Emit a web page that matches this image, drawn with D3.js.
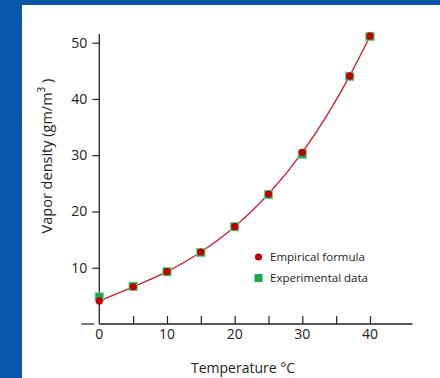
<!DOCTYPE html>
<html><head><meta charset="utf-8">
<script src="https://cdn.jsdelivr.net/npm/d3@7"></script>
<style>
html,body{margin:0;padding:0;background:#0a56a8;}
svg{display:block;}
text{font-family:"Open Sans","Liberation Sans",sans-serif;fill:#222;}
</style></head><body>
<script>
const temps = [0, 5, 10, 15, 20, 25, 30, 37, 40];
const empirical = [4.1, 6.6, 9.3, 12.8, 17.3, 23.1, 30.5, 44.1, 51.2];
const experimental = [4.8, 6.7, 9.3, 12.7, 17.3, 23.0, 30.2, 44.0, 51.1];
const xTicks = [0, 10, 20, 30, 40];
const xMinorTicks = [5, 15, 25, 35];
const yTicks = [10, 20, 30, 40, 50];
const legendLabels = ["Empirical formula", "Experimental data"];

const W = 440, H = 378;
const svg = d3.select("body").append("svg").attr("width", W).attr("height", H);
svg.append("rect").attr("width", W).attr("height", H).attr("fill", "#0a56a8");
svg.append("rect").attr("x", 22).attr("y", 5).attr("width", W - 22).attr("height", H - 5).attr("fill", "#fff");

const x = d3.scaleLinear().domain([0, 40]).range([99.3, 370]);
const y = d3.scaleLinear().domain([0, 50]).range([324, 42.7]);

// x axis
const gx = svg.append("g").attr("transform", `translate(0,${y(0)})`);
gx.append("line").attr("x1", x(0)).attr("x2", 412.5).attr("stroke", "#222").attr("stroke-width", 1.3);
const xAxis = d3.axisBottom(x).tickValues(xTicks.concat(xMinorTicks).filter(d => d !== 0)).tickSize(-8).tickFormat("");
gx.append("g").call(xAxis).call(g => { g.select(".domain").remove(); g.selectAll("line").attr("stroke", "#222").attr("stroke-width", 1.2); });
gx.selectAll(".xl").data(xTicks).join("text").attr("class", "xl")
  .attr("x", d => x(d)).attr("y", 15).attr("text-anchor", "middle").attr("font-size", 14).text(d => d);
svg.append("text").attr("x", 243).attr("y", 373).attr("text-anchor", "middle").attr("font-size", 14).text("Temperature °C");

// y axis
const gy = svg.append("g").attr("transform", `translate(${x(0)},0)`);
gy.append("line").attr("y1", y(0)).attr("y2", 34).attr("stroke", "#222").attr("stroke-width", 1.3);
const yAxis = d3.axisLeft(y).tickValues(yTicks).tickSize(7).tickPadding(5).tickFormat(d => d);
gy.append("g").call(yAxis).call(g => {
  g.select(".domain").remove();
  g.selectAll("line").attr("stroke", "#222").attr("stroke-width", 1.2);
  g.selectAll("text").attr("font-size", 14).attr("font-family", '"Open Sans","Liberation Sans",sans-serif').attr("fill", "#222");
});
gy.append("line").attr("x1", -18).attr("x2", -5).attr("y1", y(0)).attr("y2", y(0)).attr("stroke", "#222").attr("stroke-width", 1.2);

const yl = svg.append("text").attr("transform", `translate(52,156) rotate(-90)`).attr("text-anchor", "middle").attr("font-size", 14.5);
yl.append("tspan").text("Vapor density  (gm/m");
yl.append("tspan").attr("font-size", 10).attr("dy", -7).text("3");
yl.append("tspan").attr("dy", 7).text(" )");

// curve
const line = d3.line().x((d, i) => x(temps[i])).y(d => y(d)).curve(d3.curveMonotoneX);
svg.append("path").attr("d", line(empirical)).attr("fill", "none").attr("stroke", "#c8202a").attr("stroke-width", 1.3);

// experimental squares
svg.selectAll(".sq").data(experimental).join("rect").attr("class", "sq")
  .attr("x", (d, i) => x(temps[i]) - 4.2).attr("y", d => y(d) - 4.2).attr("width", 8.4).attr("height", 8.4)
  .attr("fill", "#1fa84a").attr("stroke", "#7fd08f").attr("stroke-width", 0.8);
// empirical circles
svg.selectAll(".ci").data(empirical).join("circle").attr("class", "ci")
  .attr("cx", (d, i) => x(temps[i])).attr("cy", d => y(d)).attr("r", 3.6).attr("fill", "#c00000");

// legend
const lg = svg.append("g");
lg.append("circle").attr("cx", 258.5).attr("cy", 257).attr("r", 3.6).attr("fill", "#c00000");
lg.append("rect").attr("x", 254.5).attr("y", 274).attr("width", 8).attr("height", 8).attr("fill", "#1fa84a");
lg.selectAll(".lt").data(legendLabels).join("text").attr("class", "lt")
  .attr("x", 270).attr("y", (d, i) => 261 + i * 21).attr("font-size", 11.5).text(d => d);
</script>
</body></html>
